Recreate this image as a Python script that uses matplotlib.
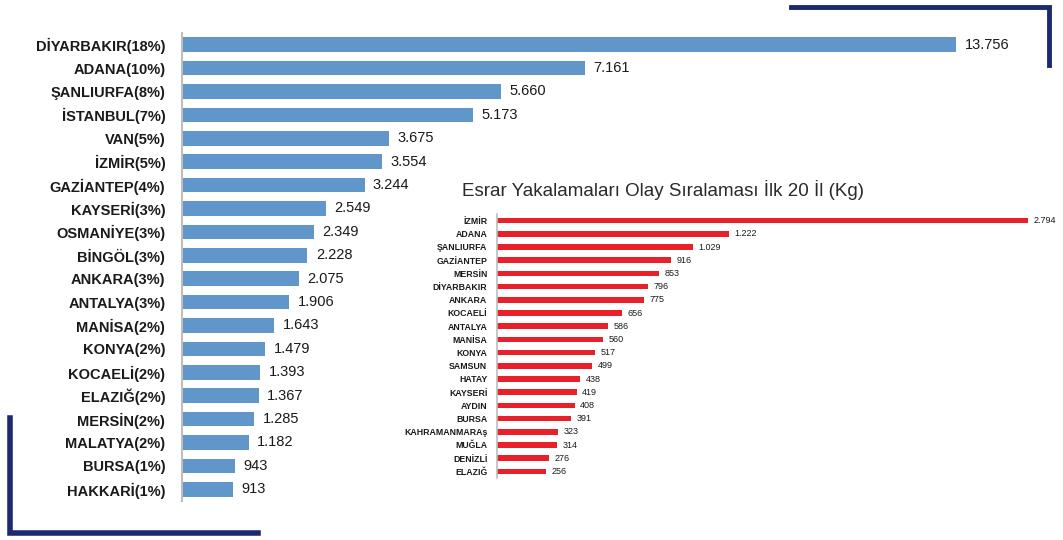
import matplotlib.pyplot as plt
from matplotlib.lines import Line2D

plt.rcParams['font.family'] = ['Liberation Sans', 'DejaVu Sans']

# Main chart: provinces (share %) and values
main_labels = ["DİYARBAKIR(18%)", "ADANA(10%)", "ŞANLIURFA(8%)", "İSTANBUL(7%)", "VAN(5%)",
               "İZMİR(5%)", "GAZİANTEP(4%)", "KAYSERİ(3%)", "OSMANİYE(3%)", "BİNGÖL(3%)",
               "ANKARA(3%)", "ANTALYA(3%)", "MANİSA(2%)", "KONYA(2%)", "KOCAELİ(2%)",
               "ELAZIĞ(2%)", "MERSİN(2%)", "MALATYA(2%)", "BURSA(1%)", "HAKKARİ(1%)"]
main_values = [13756, 7161, 5660, 5173, 3675, 3554, 3244, 2549, 2349, 2228,
               2075, 1906, 1643, 1479, 1393, 1367, 1285, 1182, 943, 913]

# Inset chart: cannabis seizures top 20 (kg)
inset_title = "Esrar Yakalamaları Olay Sıralaması İlk 20 İl (Kg)"
inset_labels = ["İZMİR", "ADANA", "ŞANLIURFA", "GAZİANTEP", "MERSİN", "DİYARBAKIR", "ANKARA",
                "KOCAELİ", "ANTALYA", "MANİSA", "KONYA", "SAMSUN", "HATAY", "KAYSERİ",
                "AYDIN", "BURSA", "KAHRAMANMARAş", "MUĞLA", "DENİZLİ", "ELAZIĞ"]
inset_values = [2794, 1222, 1029, 916, 853, 796, 775, 656, 586, 560,
                517, 499, 438, 419, 408, 391, 323, 314, 276, 256]


def tr_num(v):
    return f"{v:,}".replace(",", ".")


W, H = 1063, 540
fig = plt.figure(figsize=(W / 100, H / 100), dpi=100)


def box(x0, y0, x1, y1):
    # pixel box (top-left origin) -> figure fraction rect
    return [x0 / W, 1 - y1 / H, (x1 - x0) / W, (y1 - y0) / H]


# main horizontal bar chart
ax = fig.add_axes(box(182, 33, 1040, 501))
ax.barh(range(len(main_values)), main_values, height=0.62, color="#6096CA")
ax.set_ylim(len(main_values) - 0.5, -0.5)
ax.set_xlim(0, 15240)
ax.set_yticks(range(len(main_labels)))
ax.set_yticklabels(main_labels, fontsize=10.5, fontweight="bold", color="#1a1a1a")
ax.tick_params(axis="y", length=0, pad=12)
ax.set_xticks([])
for s in ["top", "right", "bottom"]:
    ax.spines[s].set_visible(False)
ax.spines["left"].set_color("#bdbdbd")
ax.spines["left"].set_linewidth(1.5)
for i, v in enumerate(main_values):
    ax.annotate(tr_num(v), (v, i), xytext=(6, 0), textcoords="offset points",
                va="center", ha="left", fontsize=10.5, color="#1a1a1a")

# inset red bar chart
ax2 = fig.add_axes(box(497, 214, 1050, 478))
ax2.patch.set_visible(False)
ax2.barh(range(len(inset_values)), inset_values, height=0.42, color="#E8202A")
ax2.set_ylim(len(inset_values) - 0.5, -0.5)
ax2.set_xlim(0, 2910)
ax2.set_yticks(range(len(inset_labels)))
ax2.set_yticklabels(inset_labels, fontsize=6.3, fontweight="bold", color="#1a1a1a")
ax2.tick_params(axis="y", length=0, pad=7)
ax2.set_xticks([])
for s in ["top", "right", "bottom"]:
    ax2.spines[s].set_visible(False)
ax2.spines["left"].set_color("#bdbdbd")
ax2.spines["left"].set_linewidth(1.2)
for i, v in enumerate(inset_values):
    ax2.annotate(tr_num(v), (v, i), xytext=(4, 0), textcoords="offset points",
                 va="center", ha="left", fontsize=6.5, color="#1a1a1a", annotation_clip=False)

fig.text(462 / W, 1 - 190 / H, inset_title, fontsize=13.5, color="#2a2a2a",
         ha="left", va="center")

# decorative navy corner brackets
navy = "#1B2A6E"
fig.add_artist(Line2D([10 / W, 10 / W, 258 / W], [1 - 418 / H, 1 - 533 / H, 1 - 533 / H],
                      transform=fig.transFigure, color=navy, linewidth=4,
                      solid_joinstyle="miter"))
fig.add_artist(Line2D([791 / W, 1049 / W, 1049 / W], [1 - 7 / H, 1 - 7 / H, 1 - 65 / H],
                      transform=fig.transFigure, color=navy, linewidth=3.5,
                      solid_joinstyle="miter"))

fig.savefig("out.png", dpi=100)
